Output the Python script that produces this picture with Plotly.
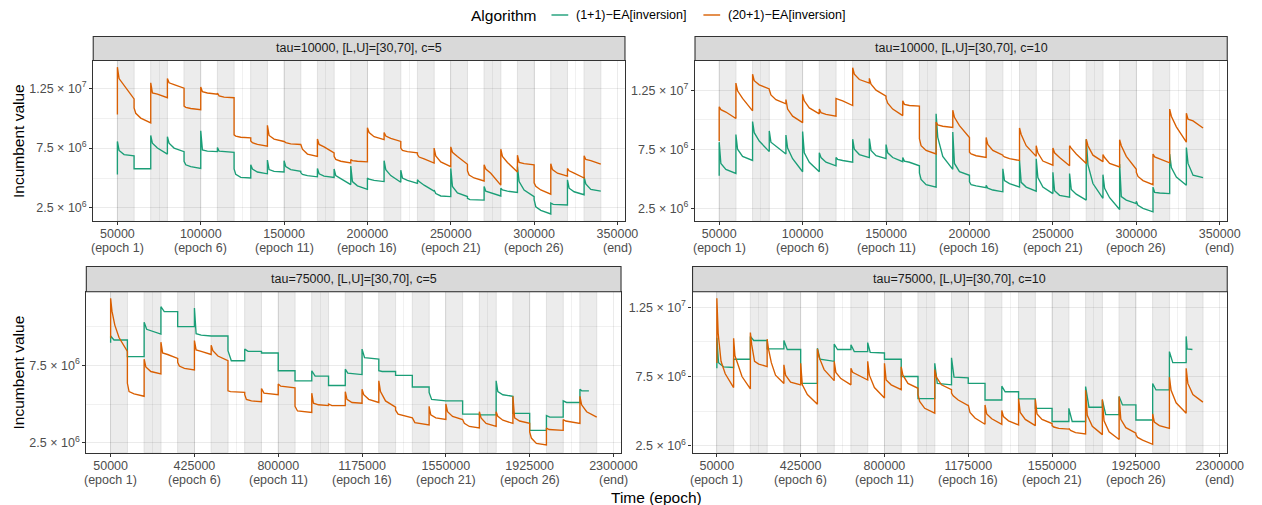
import plotly.graph_objects as go

# ---------------- data (values in millions) ----------------
START = 50000
TAU_TOP = 10000
TAU_BOTTOM = 75000
END_TOP = 340000
END_BOTTOM = 2225000
END_BL_EA1 = 2190000
END_BR_EA1 = 2178000

algorithms = ["(1+1)\u2212EA[inversion]", "(20+1)\u2212EA[inversion]"]
panel_titles = ["tau=10000, [L,U]=[30,70], c=5", "tau=10000, [L,U]=[30,70], c=10",
                "tau=75000, [L,U]=[30,70], c=5", "tau=75000, [L,U]=[30,70], c=10"]

top_tick_vals = [50000, 100000, 150000, 200000, 250000, 300000, 350000]
bottom_tick_vals = [50000, 425000, 800000, 1175000, 1550000, 1925000, 2300000]
tick_epochs = ["(epoch 1)", "(epoch 6)", "(epoch 11)", "(epoch 16)", "(epoch 21)", "(epoch 26)", "(end)"]
y_tick_vals = [2.5e6, 7.5e6, 1.25e7]
y_tick_text = ["2.5 \u00d7 10<sup>6</sup>", "7.5 \u00d7 10<sup>6</sup>", "1.25 \u00d7 10<sup>7</sup>"]

tl_ea1_init = 5.3
tl_ea1 = [
    [8.05, 7.3, 6.95, 6.85], [5.77], [8.55, 7.9, 7.5, 7.0], [8.45, 7.9, 7.5, 7.2],
    [6.4, 6.1, 5.95, 5.8], [8.95, 7.35, 7.25, 7.2], [7.55, 7.25, 7.2, 7.15],
    [5.75, 5.3, 5.05, 5.0], [6.1, 5.75, 5.5, 5.35], [6.5, 5.7, 5.55, 5.5],
    [6.45, 5.95, 5.7, 5.55], [5.45, 5.3, 5.2, 5.1], [5.8, 5.35, 5.15, 5.05],
    [5.75, 5.2, 4.95, 4.45], [6.0, 4.7, 4.35, 4.05], [5.0, 4.9, 4.8, 4.7],
    [6.45, 5.7, 5.2, 4.65], [5.65, 5.0, 4.8, 4.55], [4.85, 4.7, 4.4, 3.9],
    [4.0, 3.7, 3.5, 3.45], [5.8, 4.3, 3.75, 3.45], [3.3, 3.2, 3.15],
    [4.3, 3.9, 3.75, 3.5], [4.15, 4.0, 3.9, 3.8], [5.95, 4.7, 4.0, 3.45],
    [3.2, 2.6, 2.3, 2.0], [2.9, 2.8, 2.75], [4.85, 4.15, 3.85, 3.6],
    [5.1, 4.5, 4.05, 3.9],
]
tl_ea20_init = 10.3
tl_ea20 = [
    [14.25, 13.3, 12.75, 11.6], [10.85, 10.4, 10.0, 9.6], [12.95, 12.1, 12.0, 11.7],
    [13.3, 12.95, 12.8, 12.5], [11.0, 10.9, 10.8, 10.7], [12.6, 12.2, 12.1, 12.0],
    [12.1, 11.85, 11.75, 11.7], [8.6, 8.5, 8.4, 8.35], [8.1, 7.95, 7.8, 7.65],
    [9.4, 8.55, 8.25, 8.05], [8.05, 7.95, 7.85, 7.8], [7.8, 7.4, 7.0, 6.8],
    [8.25, 7.8, 7.6, 7.1], [6.8, 6.55, 6.4, 6.25], [6.55, 6.45, 6.4, 6.35],
    [9.2, 8.8, 8.45, 8.2], [8.8, 8.5, 8.3, 8.05], [7.5, 7.3, 7.2, 7.1],
    [6.95, 6.75, 6.6, 6.25], [7.5, 6.85, 6.35, 5.95], [7.6, 7.15, 6.8, 6.15],
    [5.6, 5.25, 5.0, 4.75], [6.1, 5.75, 5.4, 4.4], [7.4, 6.8, 6.3, 5.5],
    [6.9, 6.3, 6.2, 6.1], [4.6, 4.3, 4.0, 3.65], [6.2, 5.7, 5.4, 5.15],
    [5.8, 5.6, 5.4, 5.0], [6.85, 6.55, 6.45, 6.15],
]

tr_ea1_init = 5.25
tr_ea1 = [
    [8.1, 6.3, 5.8, 5.45], [8.75, 7.5, 6.9, 6.55], [9.85, 8.9, 8.2, 7.3],
    [9.05, 8.1, 7.75, 7.1], [8.7, 7.6, 6.7, 5.6], [9.0, 7.2, 6.4, 5.6],
    [7.2, 6.8, 6.4, 6.1], [6.8, 6.65, 6.55, 6.4], [8.35, 7.5, 7.05, 6.8],
    [8.4, 7.4, 6.95, 6.7], [7.9, 7.2, 6.8, 6.45], [6.8, 6.5, 6.4, 6.1],
    [5.5, 4.95, 4.5, 4.3], [10.5, 8.5, 6.9, 5.8], [8.95, 6.3, 5.6, 5.3],
    [4.75, 4.5, 4.4, 4.25], [4.45, 4.2, 4.05, 3.9], [5.85, 4.85, 4.6, 4.3],
    [6.55, 4.7, 4.3, 3.95], [6.7, 5.1, 4.3, 3.75], [5.55, 4.0, 3.6, 3.45],
    [5.45, 4.1, 3.7, 3.2], [8.35, 6.2, 4.6, 3.35], [5.35, 4.2, 3.4, 2.4],
    [6.25, 3.5, 3.2, 2.9], [3.1, 2.75, 2.5, 2.2], [4.3, 3.85, 3.8, 3.75],
    [7.1, 5.95, 5.15, 4.45], [7.65, 6.3, 5.3, 5.1],
]
tr_ea20_init = 8.2
tr_ea20 = [
    [11.1, 10.85, 10.65, 10.1], [13.1, 12.45, 11.8, 10.75], [13.85, 13.3, 12.95, 12.6],
    [12.55, 12.1, 11.7, 11.35], [11.7, 10.9, 10.3, 9.75], [12.15, 11.6, 11.0, 10.5],
    [10.9, 10.6, 10.45, 10.3], [11.8, 11.75, 11.6, 11.2], [14.4, 13.85, 13.4, 13.1],
    [13.5, 13.0, 12.5, 12.0], [11.8, 11.4, 10.9, 10.35], [11.6, 11.3, 11.2, 11.15],
    [8.4, 7.8, 7.4, 7.1], [9.8, 9.55, 9.45, 9.35], [10.8, 10.2, 9.5, 8.5],
    [7.25, 7.1, 6.95, 6.8], [8.5, 7.9, 7.4, 7.0], [6.95, 6.85, 6.7, 6.55],
    [9.3, 8.75, 7.8, 6.9], [7.8, 7.2, 6.5, 6.15], [7.6, 7.2, 6.8, 6.1],
    [7.8, 7.6, 7.1, 6.3], [8.35, 7.8, 7.0, 6.45], [7.05, 6.8, 6.3, 6.0],
    [8.3, 7.8, 6.9, 5.8], [5.55, 5.2, 4.85, 4.5], [7.1, 6.85, 6.7, 6.35],
    [10.9, 10.3, 9.4, 8.1], [10.55, 10.05, 9.9, 9.3],
]

bl_ea1_init = 8.96
bl_ea1 = [
    [9.4, 9.14], [8.06], [10.28, 9.83, 9.52], [11.29, 10.97], [10.0],
    [11.2, 9.55, 9.45, 9.4], [9.4], [8.45, 7.8], [8.55, 8.4], [8.3], [7.15],
    [6.5], [7.15, 6.8], [6.2], [7.25, 7.0, 6.9], [8.55, 8.0, 7.9], [7.15, 7.1],
    [6.85], [6.1], [5.75, 5.3, 5.2], [5.2], [4.35], [4.3], [6.5, 5.8, 5.6, 5.5],
    [4.4], [3.3], [4.25, 4.15], [5.2, 5.1], [5.95, 5.85],
]
bl_ea20_init = 9.25
bl_ea20 = [
    [11.83, 11.0, 10.1, 9.3, 8.4], [6.34, 5.8, 5.65, 5.5], [7.9, 7.4, 7.1, 6.95],
    [9.0, 8.3, 8.2, 7.95], [7.7, 7.45, 7.3, 7.2], [9.1, 8.5, 8.4, 8.2],
    [8.8, 8.45, 8.1, 7.8], [5.85, 5.8, 5.75], [5.6, 5.3, 5.2, 5.15],
    [6.0, 5.7, 5.6], [6.3, 6.15, 6.05], [4.85, 4.55, 4.45], [5.7, 5.05, 4.95, 4.9],
    [5.0, 4.9], [5.8, 5.3, 5.1, 5.05], [5.95, 5.6, 5.3, 5.1], [6.5, 5.8, 5.2, 4.8],
    [4.6, 4.35, 4.1], [4.1, 3.8, 3.65], [4.85, 4.3, 4.1, 4.0], [5.0, 4.5, 4.2, 4.0],
    [4.0, 3.75, 3.55, 3.45], [4.5, 4.1, 3.75, 3.55], [4.5, 4.2, 3.95, 3.75],
    [5.5, 4.1, 3.9, 3.75], [3.2, 2.8, 2.45, 2.35], [3.45, 3.35, 3.3],
    [4.0, 3.9, 3.75], [5.5, 4.95, 4.5, 4.15],
]

br_ea1_init = 8.1
br_ea1 = [
    [10.3, 8.5, 8.2, 8.15], [8.75], [10.4, 10.1], [9.5], [10.1, 9.45], [7.0],
    [9.55, 8.75, 8.6], [9.85, 9.45], [9.8, 9.3], [9.95, 9.25, 9.2], [8.75], [7.5],
    [5.9], [8.45, 7.0, 6.9], [8.85, 7.45, 7.4], [7.0], [5.8], [6.8, 6.4],
    [5.88], [5.2], [4.25], [5.2, 4.25], [6.77, 5.28], [5.8, 4.75],
    [6.05, 5.45], [4.36], [7.0, 6.53], [9.3, 8.5], [10.4, 9.5, 9.45],
]
br_ea20_init = 8.47
br_ea20 = [
    [13.16, 10.6, 8.6, 7.7, 6.7], [10.27, 9.0, 8.4, 7.5, 6.6], [10.68, 9.8, 8.6, 8.4, 8.22],
    [10.2, 9.5, 8.5, 7.6, 7.0], [8.35, 7.6, 7.1, 6.9], [8.45, 6.9, 6.2, 5.5],
    [9.5, 8.9, 8.0, 7.2], [8.6, 7.8, 7.35, 6.9], [8.1, 7.8, 7.6, 7.25],
    [8.6, 7.6, 6.7, 5.95], [8.45, 7.25, 6.9, 6.55], [8.2, 7.6, 7.0, 6.65],
    [6.2, 5.7, 5.2, 4.85], [8.0, 7.45, 6.9, 6.55], [6.3, 6.1, 5.8, 5.4],
    [5.45, 4.9, 4.5, 4.05], [5.45, 4.8, 4.45, 4.05], [5.05, 4.6, 4.3, 4.0],
    [5.9, 4.9, 4.4, 3.95], [5.85, 4.8, 4.4, 4.1], [3.95, 3.85, 3.75, 3.7],
    [3.75, 3.6, 3.45, 3.35], [6.5, 4.7, 3.9, 3.3], [5.85, 4.3, 3.5, 2.95],
    [6.05, 4.4, 3.8, 3.4], [3.3, 3.1, 2.9, 2.6], [4.8, 4.2, 3.95, 3.75],
    [7.45, 6.5, 5.6, 4.85], [8.1, 7.0, 6.2, 5.65],
]

# ---------------- styling / layout ----------------
W, H = 1262, 505
GREEN = "#1B9E77"
ORANGE = "#D95F02"
FONT = "Liberation Sans, Arial, Helvetica, sans-serif"
SMALL = 12.5
BIG = 15.5
# where, inside an epoch (fraction of the epoch), each of the n readings was taken;
# the last reading is held until the next change when it is not at the epoch end
FRACS = {1: [0], 2: [0, 0.2], 3: [0, 0.15, 1.0], 4: [0, 0.1, 0.4, 1.0],
         5: [0, 0.08, 0.25, 0.5, 1.0]}


def build(init, epochs, tau, end):
    t, v = [START], [init]
    for k, vals in enumerate(epochs):
        t0 = START + k * tau
        span = min(tau, end - t0)
        fr = FRACS[len(vals)]
        for f, val in zip(fr, vals):
            t.append(t0 + f * span)
            v.append(val)
        if fr[-1] < 1.0:
            t.append(t0 + span)
            v.append(vals[-1])
    return t, [x * 1e6 for x in v]


PANELS = [
    dict(tau=TAU_TOP, box=(94.5, 633.5, 60.5, 221.0), strip_top=36.5, xr=(35500, 354500),
         yr=(1.41e6, 14.81e6), ticks=top_tick_vals, line2=248.0,
         series=[(tl_ea1_init, tl_ea1, END_TOP), (tl_ea20_init, tl_ea20, END_TOP)]),
    dict(tau=TAU_TOP, box=(704.5, 1244, 60.5, 221.0), strip_top=36.5, xr=(35500, 354500),
         yr=(1.43e6, 15.01e6), ticks=top_tick_vals, line2=248.0,
         series=[(tr_ea1_init, tr_ea1, END_TOP), (tr_ea20_init, tr_ea20, END_TOP)]),
    dict(tau=TAU_BOTTOM, box=(87.5, 629.5, 291.7, 452.7), strip_top=266.5, xr=(-58750, 2333750),
         yr=(1.853e6, 12.26e6), ticks=bottom_tick_vals, line2=480.0,
         series=[(bl_ea1_init, bl_ea1, END_BL_EA1), (bl_ea20_init, bl_ea20, END_BOTTOM)]),
    dict(tau=TAU_BOTTOM, box=(702, 1244, 291.7, 452.7), strip_top=266.5, xr=(-58750, 2333750),
         yr=(1.994e6, 13.63e6), ticks=bottom_tick_vals, line2=480.0,
         series=[(br_ea1_init, br_ea1, END_BR_EA1), (br_ea20_init, br_ea20, END_BOTTOM)]),
]


def fx(p):
    return p / W


def fy(p):
    return 1 - p / H


fig = go.Figure()
shapes, annotations = [], []
layout = {}
for i, P in enumerate(PANELS, start=1):
    xname = "x" if i == 1 else f"x{i}"
    yname = "y" if i == 1 else f"y{i}"
    l, r, t, b = P["box"]
    tau = P["tau"]
    for (init, epochs, end), color in zip(P["series"], [GREEN, ORANGE]):
        tt, vv = build(init, epochs, tau, end)
        fig.add_trace(go.Scatter(x=tt, y=vv, mode="lines", xaxis=xname, yaxis=yname,
                                 line=dict(color=color, width=1.35, shape="linear"),
                                 showlegend=False, hoverinfo="skip"))
    ticks = P["ticks"]
    mids = [(a + c) / 2 for a, c in zip(ticks[:-1], ticks[1:])]
    yvals = [v for v in y_tick_vals if P["yr"][0] <= v <= P["yr"][1]]
    ytext = [y_tick_text[y_tick_vals.index(v)] for v in yvals]
    ymids = [v for v in [5e6, 1e7, 1.5e7] if P["yr"][0] <= v <= P["yr"][1]]
    common = dict(ticks="outside", ticklen=3, tickwidth=1, tickcolor="#333333",
                  tickfont=dict(size=SMALL, color="#4d4d4d", family=FONT),
                  showgrid=True, gridcolor="rgba(0,0,0,0.08)", gridwidth=1.1,
                  showline=True, mirror=True, linecolor="#333333", linewidth=1.1,
                  zeroline=False, fixedrange=True)
    layout["xaxis" if i == 1 else f"xaxis{i}"] = dict(
        domain=[fx(l), fx(r)], range=list(P["xr"]), anchor=yname,
        tickmode="array", tickvals=ticks, ticktext=[str(v) for v in ticks],
        ticklabelstandoff=-2,
        minor=dict(tickmode="array", tickvals=mids, showgrid=True,
                   gridcolor="rgba(0,0,0,0.055)", gridwidth=0.8, ticks=""), **common)
    layout["yaxis" if i == 1 else f"yaxis{i}"] = dict(
        domain=[fy(b), fy(t)], range=list(P["yr"]), anchor=xname,
        tickmode="array", tickvals=yvals, ticktext=ytext,
        minor=dict(tickmode="array", tickvals=ymids, showgrid=True,
                   gridcolor="rgba(0,0,0,0.055)", gridwidth=0.8, ticks=""), **common)
    # second line of each x tick label (epoch number)
    for v, e in zip(ticks, tick_epochs):
        annotations.append(dict(text=e, xref=xname, yref="paper", x=v, y=fy(P["line2"]),
                                xanchor="center", yanchor="middle", showarrow=False,
                                font=dict(size=SMALL, color="#4d4d4d", family=FONT)))
    # alternating epoch shading
    for k in range(0, 29, 2):
        x0 = START + k * tau
        shapes.append(dict(type="rect", xref=xname, yref=f"{yname} domain",
                           x0=x0, x1=x0 + tau, y0=0, y1=1, layer="below",
                           fillcolor="#ececec",
                           line=dict(color="#dfdfdf", width=1)))
    # facet strip
    shapes.append(dict(type="rect", xref="paper", yref="paper",
                       x0=fx(l), x1=fx(r), y0=fy(t), y1=fy(P["strip_top"]),
                       fillcolor="#d9d9d9", line=dict(color="#333333", width=1.1)))
    annotations.append(dict(text=panel_titles[i - 1], xref="paper", yref="paper",
                            x=fx((l + r) / 2), y=fy((t + P["strip_top"]) / 2),
                            xanchor="center", yanchor="middle", showarrow=False,
                            font=dict(size=SMALL, color="#1a1a1a", family=FONT)))
    if i in (1, 3):
        annotations.append(dict(text="Incumbent value", xref="paper", yref="paper",
                                x=fx(18.5), y=fy((t + b) / 2), textangle=-90,
                                xanchor="center", yanchor="middle", showarrow=False,
                                font=dict(size=BIG, color="black", family=FONT)))

# x axis title
annotations.append(dict(text="Time (epoch)", xref="paper", yref="paper",
                        x=fx(665.5), y=fy(497), xanchor="center", yanchor="middle",
                        showarrow=False, font=dict(size=BIG, color="black", family=FONT)))

# legend (drawn manually to match the key layout)
LEG_Y = 15
annotations.append(dict(text="Algorithm", xref="paper", yref="paper", x=fx(545), y=fy(LEG_Y),
                        xanchor="right", yanchor="middle", showarrow=False,
                        font=dict(size=BIG, color="black", family=FONT)))
for name, color, k0, tx in [(algorithms[0], GREEN, 559, 582), (algorithms[1], ORANGE, 713, 736)]:
    shapes.append(dict(type="line", xref="paper", yref="paper", x0=fx(k0), x1=fx(k0 + 17),
                       y0=fy(LEG_Y), y1=fy(LEG_Y), line=dict(color=color, width=1.4)))
    annotations.append(dict(text=name, xref="paper", yref="paper", x=fx(tx), y=fy(LEG_Y),
                            xanchor="left", yanchor="middle", showarrow=False,
                            font=dict(size=SMALL, color="black", family=FONT)))

fig.update_layout(width=W, height=H, margin=dict(l=0, r=0, t=0, b=0),
                  paper_bgcolor="white", plot_bgcolor="white",
                  font=dict(family=FONT), shapes=shapes, annotations=annotations,
                  showlegend=False, **layout)

fig.write_html("out.html", config={"displayModeBar": False},
               post_script="document.body.style.margin='0';document.body.style.overflow='hidden';")
